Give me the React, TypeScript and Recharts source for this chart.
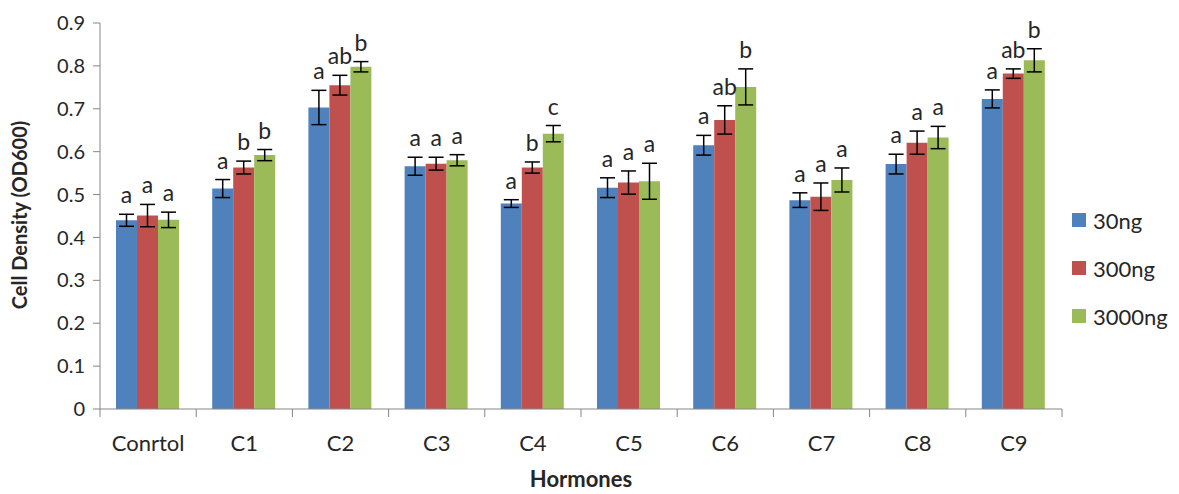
import { Bar, BarChart, ErrorBar, LabelList, Legend, XAxis, YAxis } from "recharts"

const categories = ["Conrtol", "C1", "C2", "C3", "C4", "C5", "C6", "C7", "C8", "C9"]
const seriesNames = ["30ng", "300ng", "3000ng"]
const seriesColors = ["#4F81BD", "#C0504D", "#9BBB59"]

const mean30 = [0.44, 0.514, 0.703, 0.566, 0.479, 0.516, 0.615, 0.487, 0.571, 0.723]
const mean300 = [0.451, 0.563, 0.755, 0.572, 0.563, 0.528, 0.674, 0.495, 0.621, 0.782]
const mean3000 = [0.441, 0.592, 0.798, 0.58, 0.642, 0.531, 0.751, 0.534, 0.633, 0.813]

const err30 = [0.014, 0.021, 0.04, 0.021, 0.009, 0.023, 0.023, 0.017, 0.023, 0.021]
const err300 = [0.026, 0.015, 0.023, 0.015, 0.013, 0.027, 0.033, 0.032, 0.027, 0.011]
const err3000 = [0.018, 0.013, 0.012, 0.013, 0.019, 0.042, 0.042, 0.028, 0.026, 0.027]

const sig30 = ["a", "a", "a", "a", "a", "a", "a", "a", "a", "a"]
const sig300 = ["a", "b", "ab", "a", "b", "a", "ab", "a", "a", "ab"]
const sig3000 = ["a", "b", "b", "a", "c", "a", "b", "a", "a", "b"]

const yTicks = [0, 0.1, 0.2, 0.3, 0.4, 0.5, 0.6, 0.7, 0.8, 0.9]

const data = categories.map((name, i) => ({
  name,
  m30: mean30[i],
  m300: mean300[i],
  m3000: mean3000[i],
  e30: err30[i],
  e300: err300[i],
  e3000: err3000[i],
}))

const FONT = "Lato, 'Open Sans', sans-serif"
const TEXT = "#262626"
const AXIS = "#868686"

const W = 1179
const H = 494
const MARGIN = { top: 23, right: 117, bottom: 0, left: 0 }
const Y_AXIS_W = 100
const X_AXIS_H = 85
const bandWidth = (W - MARGIN.right - MARGIN.left - Y_AXIS_W) / categories.length

function XTick(props: any) {
  const { x, y, payload, index } = props
  const half = bandWidth / 2
  return (
    <g>
      <line x1={x - half} x2={x - half} y1={y} y2={y + 8} stroke={AXIS} />
      {index === categories.length - 1 && (
        <line x1={x + half} x2={x + half} y1={y} y2={y + 8} stroke={AXIS} />
      )}
      <text x={x} y={y + 42} textAnchor="middle" fontFamily={FONT} fontSize={22} fill={TEXT}>
        {payload.value}
      </text>
    </g>
  )
}

function sigLabel(errs: number[], means: number[], sigs: string[]) {
  return (props: any) => {
    const { x, y, width, height, index } = props
    const errPx = (height * errs[index]) / means[index]
    return (
      <text
        x={x + width / 2}
        y={y - errPx - 11}
        textAnchor="middle"
        fontFamily={FONT}
        fontSize={23}
        fill={TEXT}
      >
        {sigs[index]}
      </text>
    )
  }
}

function LegendBox() {
  return (
    <div style={{ fontFamily: FONT, fontSize: 22, color: TEXT }}>
      {seriesNames.map((s, i) => (
        <div key={s} style={{ height: 48, display: "flex", alignItems: "center" }}>
          <span style={{ width: 14, height: 14, background: seriesColors[i], display: "inline-block" }} />
          <span style={{ marginLeft: 7 }}>{s}</span>
        </div>
      ))}
    </div>
  )
}

export default function App() {
  return (
    <div style={{ width: W, height: H, background: "#fff" }}>
      <style>{`body{margin:0}`}</style>
      <BarChart width={W} height={H} data={data} margin={MARGIN} barCategoryGap={16} barGap={0}>
        <XAxis
          dataKey="name"
          height={X_AXIS_H}
          stroke={AXIS}
          tickLine={false}
          tickSize={0}
          tickMargin={0}
          interval={0}
          tick={<XTick />}
          label={{
            content: () => (
              <text x={581} y={487} textAnchor="middle" fontFamily={FONT} fontSize={22} fontWeight="bold" fill={TEXT}>
                Hormones
              </text>
            ),
          }}
        />
        <YAxis
          width={Y_AXIS_W}
          domain={[0, 0.9]}
          ticks={yTicks}
          interval={0}
          stroke={AXIS}
          tickSize={7}
          tickMargin={8}
          tick={{ fontFamily: FONT, fontSize: 20, fill: TEXT }}
          tickFormatter={(v: number) => (v === 0 ? "0" : v.toFixed(1))}
          label={{
            content: () => (
              <text
                x={27}
                y={215}
                transform="rotate(-90 27 215)"
                textAnchor="middle"
                fontFamily={FONT}
                fontSize={20}
                fontWeight="bold"
                fill={TEXT}
              >
                Cell Density (OD600)
              </text>
            ),
          }}
        />
        <Legend
          layout="horizontal"
          verticalAlign="middle"
          align="center"
          wrapperStyle={{ left: 1072, top: 196, width: 107 }}
          content={() => <LegendBox />}
        />
        <Bar dataKey="m30" name="30ng" fill={seriesColors[0]} isAnimationActive={false}>
          <ErrorBar dataKey="e30" width={7.5} stroke="#000" strokeWidth={1.5} direction="y" />
          <LabelList dataKey="m30" content={sigLabel(err30, mean30, sig30)} />
        </Bar>
        <Bar dataKey="m300" name="300ng" fill={seriesColors[1]} isAnimationActive={false}>
          <ErrorBar dataKey="e300" width={7.5} stroke="#000" strokeWidth={1.5} direction="y" />
          <LabelList dataKey="m300" content={sigLabel(err300, mean300, sig300)} />
        </Bar>
        <Bar dataKey="m3000" name="3000ng" fill={seriesColors[2]} isAnimationActive={false}>
          <ErrorBar dataKey="e3000" width={7.5} stroke="#000" strokeWidth={1.5} direction="y" />
          <LabelList dataKey="m3000" content={sigLabel(err3000, mean3000, sig3000)} />
        </Bar>
      </BarChart>
    </div>
  )
}
